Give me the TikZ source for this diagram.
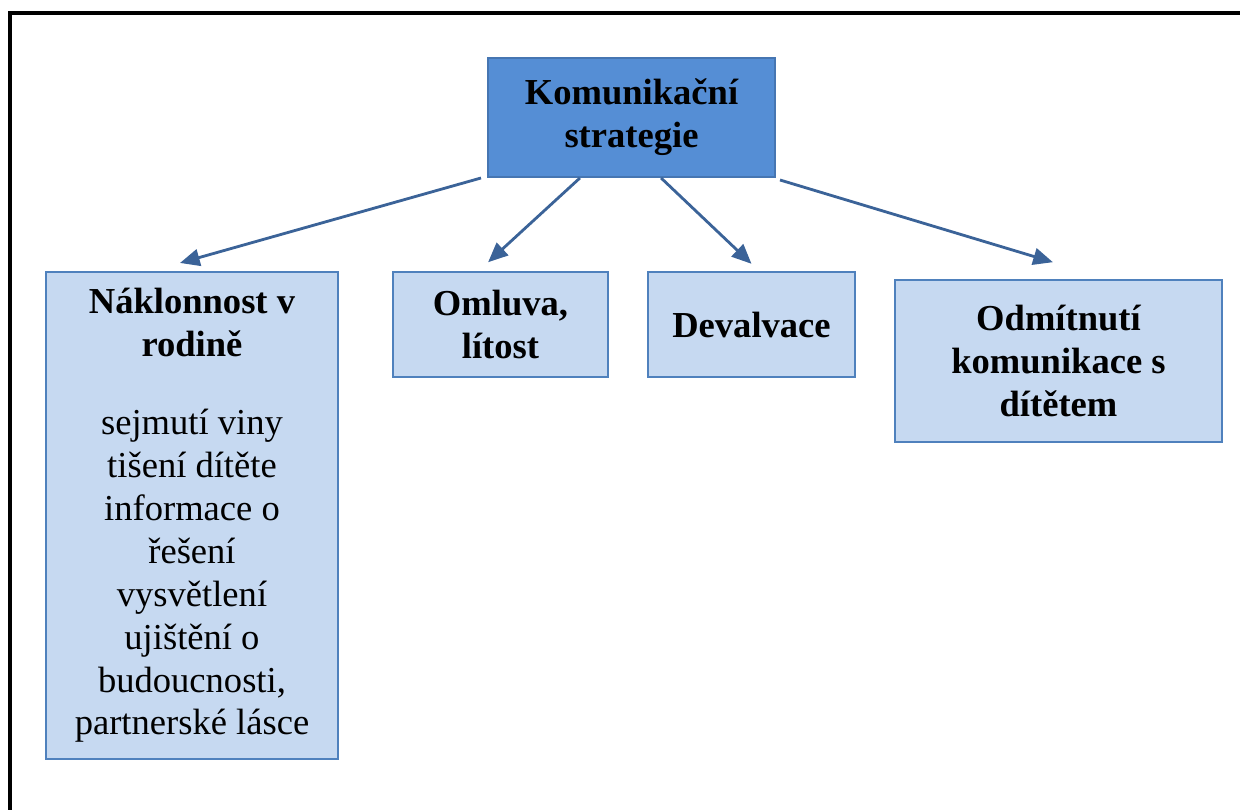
\documentclass[tikz,border=0pt]{standalone}
\usepackage{fontspec}
\setmainfont{Liberation Serif}
\usetikzlibrary{arrows.meta}
\definecolor{topblue}{RGB}{85,142,213}
\definecolor{topline}{RGB}{70,118,178}
\definecolor{boxfill}{RGB}{198,217,241}
\definecolor{boxline}{RGB}{79,129,189}
\definecolor{arrowblue}{RGB}{59,99,152}
\begin{document}
\begin{tikzpicture}[x=0.025cm,y=-0.025cm]
      \useasboundingbox (0,0) rectangle (1240,809);
      \draw[line width=2.4pt] (10,13) rectangle (1260,830);
      \begin{scope}[every node/.style={rectangle,draw=boxline,fill=boxfill,line width=1.4pt,
          align=center,inner sep=0pt,font=\fontsize{26}{30.5}\selectfont\bfseries}]
        \node (K)[fill=topblue,draw=topline,minimum width=7.175cm,minimum height=2.975cm]
          at (631.5,117.5) {Komunikační\\strategie};
        \node (N)[minimum width=7.3cm,minimum height=12.175cm,font=\fontsize{26}{30.5}\selectfont]
          at (192,515.5)
          {\textbf{Náklonnost v}\\\textbf{rodině}\\[25pt]sejmutí viny\\tišení dítěte\\informace o\\řešení\\vysvětlení\\ujištění o\\budoucnosti,\\partnerské lásce};
        \node (O)[minimum width=5.375cm,minimum height=2.625cm] at (500.5,324.5) {Omluva,\\lítost};
        \node (D)[minimum width=5.175cm,minimum height=2.625cm] at (751.5,324.5) {Devalvace};
        \node (R)[minimum width=8.175cm,minimum height=4.05cm] at (1058.5,361)
          {Odmítnutí\\komunikace s\\dítětem};
      \end{scope}
      \begin{scope}[every edge/.style={draw=arrowblue,line width=2pt,-{Triangle[length=14pt,width=12pt]}}]
        \path ([xshift=-0.15cm]K.south west) edge ([xshift=-0.3cm,yshift=0.2cm]N.north);
        \path ([xshift=-1.29cm]K.south) edge ([xshift=-0.31cm,yshift=0.22cm]O.north);
        \path ([xshift=0.74cm]K.south) edge ([yshift=0.18cm]D.north);
        \path ([xshift=0.1cm,yshift=-0.05cm]K.south east) edge ([xshift=-0.14cm,yshift=0.42cm]R.north);
      \end{scope}
\end{tikzpicture}
\end{document}
